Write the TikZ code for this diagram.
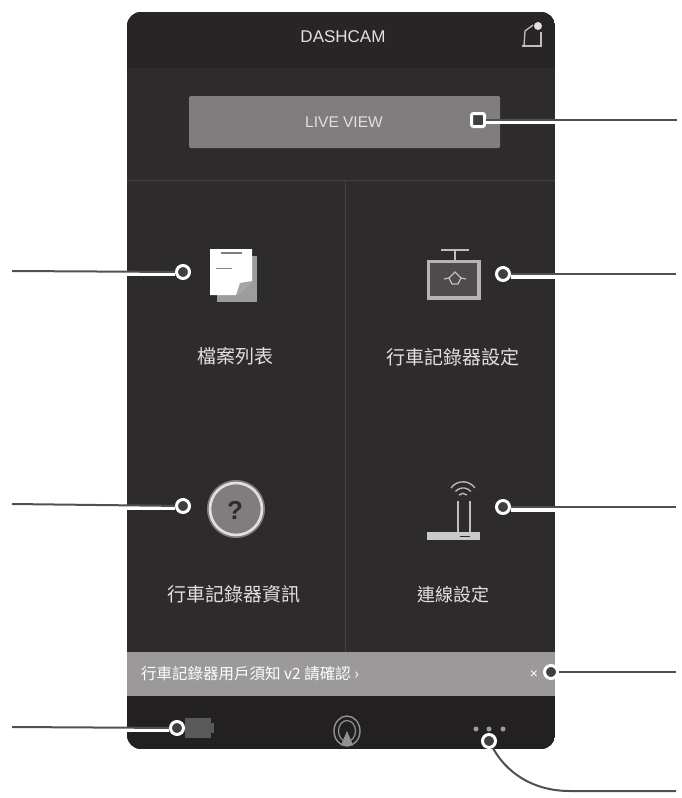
\documentclass[tikz,border=0pt]{standalone}
\usepackage{fontspec}
\setmainfont{Liberation Sans}
\newfontfamily\cjk{Noto Sans CJK TC}
\definecolor{panel}{HTML}{2E2B2C}
\definecolor{topbar}{HTML}{282526}
\definecolor{barkdark}{HTML}{232021}
\definecolor{bargray}{HTML}{9B999A}
\definecolor{btn}{HTML}{7F7D7E}
\definecolor{rule}{HTML}{454243}
\definecolor{leader}{HTML}{505050}
\definecolor{soft}{HTML}{E2E0E0}
\tikzset{
  callout/.style={circle,draw=white,line width=3pt,fill=leader!80!black,minimum size=13pt,inner sep=0pt},
  casing/.style={draw=white,line width=4pt},
  leaderline/.style={draw=leader,line width=2pt},
  cjklabel/.style={text=soft,font=\cjk\fontsize{19}{19}\selectfont,inner sep=0pt},
  iconline/.style={draw=soft!85!black,line width=1.6pt},
}
\begin{document}
\begin{tikzpicture}[x=1pt,y=-1pt]
\useasboundingbox (0,0) rectangle (682,798);
\fill[white] (0,0) rectangle (682,798);
% panel
\begin{scope}
\clip[rounded corners=14pt] (127,12) rectangle (555,749);
\fill[panel] (127,12) rectangle (555,749);
\fill[topbar] (127,12) rectangle (555,68);
\fill[barkdark] (127,696) rectangle (555,749);
\fill[bargray] (127,652) rectangle (555,696);
\draw[rule,line width=1pt] (127,180.5) -- (555,180.5);
\draw[rule,line width=1pt] (345.5,180.5) -- (345.5,652);
\end{scope}
\fill[btn,rounded corners=1.5pt] (189,96) rectangle (500,148);
% texts
\node[text=soft,font=\fontsize{17}{17}\selectfont,inner sep=0pt] (title) at (343,37) {DASHCAM};
\node[text=soft,font=\fontsize{15.5}{15.5}\selectfont,inner sep=0pt] (live) at (344,122) {LIVE VIEW};
\node[cjklabel] (t1) at (235,356) {檔案列表};
\node[cjklabel] (t2) at (453,357) {行車記錄器設定};
\node[cjklabel] (t3) at (234,594) {行車記錄器資訊};
\node[cjklabel,font=\cjk\fontsize{18}{18}\selectfont] (t4) at (453,595) {連線設定};
\node[text=white,font=\cjk\fontsize{15.5}{15.5}\selectfont,inner sep=0pt,anchor=west] (t5) at (141,674) {行車記錄器用戶須知 v2 請確認 ›};
\node[text=white,font=\fontsize{14}{14}\selectfont,inner sep=0pt] (t6) at (534,675) {×};
% top-right icon
\draw[iconline,line width=1.3pt] (524,46) -- (525,31) -- (533,25);
\draw[iconline,line width=1.3pt] (541,32) -- (541,46) -- (522,46);
\fill[soft] (538,26) circle (4pt);
% document icon
\fill[soft!70!black] (217,256) rectangle (257,302);
\fill[white] (210,249) -- (252,249) -- (252,281) -- (236,295) -- (210,295) -- cycle;
\fill[btn!70!white] (236,295) -- (252,281) -- (240,283) -- cycle;
\draw[btn,line width=1.4pt] (221,253) -- (242,253);
\draw[soft!60!black,line width=.8pt] (216,268) -- (232,268);
% camera icon
\draw[iconline,line width=2pt] (441,250) -- (469,250);
\draw[iconline] (455,250) -- (455,260);
\draw[soft!80!black,line width=3.2pt,fill=panel!85!white] (428.5,261.5) rectangle (479,298);
\draw[iconline,line width=1.2pt] (449,278) -- (455,272) -- (461,278) -- (458,284) -- (452,284) -- cycle;
\draw[iconline,line width=1.2pt] (444,279) -- (449,278) (461,278) -- (466,279);
% question icon
\fill[btn] (236,509) circle (29pt);
\draw[soft,line width=2.6pt] (236,509) circle (26pt);
\node[text=panel,font=\bfseries\fontsize{26}{26}\selectfont,inner sep=0pt] (q) at (235,510) {?};
% router icon
\draw[iconline] (458,501) -- (458,532);
\draw[iconline] (470,501) -- (470,532);
\fill[soft!90!black] (427,532) rectangle (480,540);
\draw[panel,line width=1pt] (460,536) -- (470,536);
\draw[iconline,line width=1.3pt] (451,488) arc[start angle=145,end angle=35,radius=14.6pt];
\draw[iconline,line width=1.3pt] (455.5,491.5) arc[start angle=140,end angle=40,radius=10pt];
\draw[iconline,line width=1.3pt] (459,495) arc[start angle=135,end angle=45,radius=5.6pt];
% bottom bar icons
\fill[leader!95!white] (185,718) rectangle (211,738);
\fill[leader!95!white] (211,723) rectangle (214,733);
\draw[soft!65!black,line width=1.4pt] (347,731) ellipse (13pt and 15pt);
\draw[soft!65!black,line width=1.2pt] (347,731) ellipse (8.5pt and 10.5pt);
\fill[soft!65!black] (347,731) -- (353,745) -- (341,745) -- cycle;
\foreach \px in {476,489,503} \fill[soft!70!black] (\px,729) circle (2.5pt);
% callouts
\coordinate (e1) at (677,120);
\coordinate (e2) at (12,271);
\coordinate (e3) at (676,274);
\coordinate (e4) at (12,504);
\coordinate (e5) at (676,507);
\coordinate (e6) at (676,672);
\coordinate (e7) at (12,727);
\coordinate (e8) at (676,791);
\coordinate (c1) at (555,122);
\coordinate (c2) at (127,274);
\coordinate (c3) at (555,276.5);
\coordinate (c4) at (127,507.5);
\coordinate (c5) at (555,509.5);
\coordinate (c7) at (127,730);
\node[callout,rounded corners=2pt,rectangle,minimum size=13pt] (d1) at (478,120) {};
\node[callout] (d2) at (183,272) {};
\node[callout] (d3) at (503,274) {};
\node[callout] (d4) at (183,506) {};
\node[callout] (d5) at (503,507) {};
\node[callout] (d6) at (551,672) {};
\node[callout] (d7) at (177,728) {};
\node[callout] (d8) at (489,741) {};
\draw[casing] (d1.east |- c1) -- (c1);
\draw[casing] (d2.west |- c2) -- (c2);
\draw[casing] (d3.east |- c3) -- (c3);
\draw[casing] (d4.west |- c4) -- (c4);
\draw[casing] (d5.east |- c5) -- (c5);
\draw[casing] (d7.west |- c7) -- (c7);
\draw[leaderline] (d1) -- (e1);
\draw[leaderline] (d2) -- (e2);
\draw[leaderline] (d3) -- (e3);
\draw[leaderline] (d4) -- (e4);
\draw[leaderline] (d5) -- (e5);
\draw[leaderline] (d6) -- (e6);
\draw[leaderline] (d7) -- (e7);
\draw[leaderline] (d8) .. controls (505,770) and (530,791) .. (570,791) -- (e8);
\end{tikzpicture}
\end{document}
